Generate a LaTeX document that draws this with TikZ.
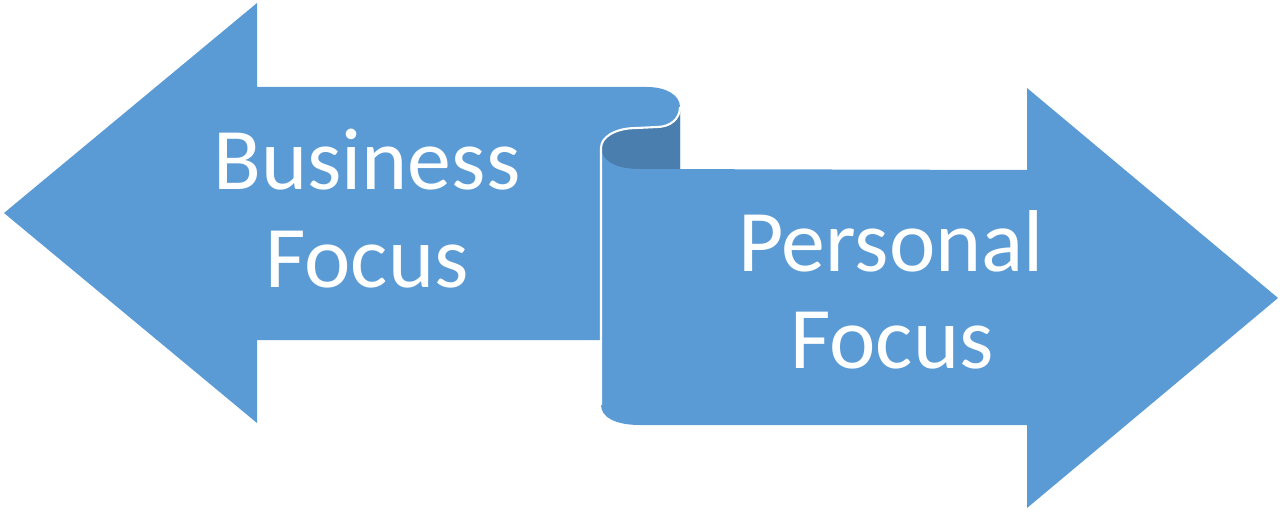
\documentclass[tikz,border=0pt]{standalone}
\usepackage{fontspec}
\setmainfont{Carlito}
\usepackage{tikz}
\definecolor{arrowblue}{HTML}{5B9BD5}
\definecolor{curlblue}{HTML}{4A7EAE}
\begin{document}
\begin{tikzpicture}[x=0.02cm,y=-0.02cm]
\tikzstyle{label}=[text=white,font=\fontsize{50}{55}\selectfont,inner sep=0pt,anchor=base]
\useasboundingbox (0,0) rectangle (1280,513);
% left arrow
\fill[arrowblue] (4,213) -- (257,3) -- (257,87) -- (647,87)
  .. controls (666,87) and (680,95) .. (680,107) -- (680,169)
  -- (600,169) -- (600,340) -- (257,340) -- (257,423) -- cycle;
% back of the curl
\fill[curlblue] (680,107) -- (680,169) -- (637,169)
  .. controls (615,169) and (601,160) .. (601,148)
  .. controls (601,137) and (615,128) .. (637,128) -- (657,127)
  .. controls (670,127) and (680,119) .. (680,107) -- cycle;
% right arrow
\fill[arrowblue] (601,148) .. controls (601,160) and (615,169) .. (637,169)
  -- (1027,170) -- (1027,88) -- (1278,298) -- (1027,508) -- (1027,425)
  -- (640,425) .. controls (615,425) and (601,417) .. (601,405) -- cycle;
\draw[white,line width=1.2pt] (680,107) .. controls (680,119) and (670,127) .. (657,127)
  -- (637,128) .. controls (615,128) and (601,137) .. (601,148) -- (601,405);
\node[label] (bus) at (367,190) {Business};
\node[label] (busfocus) at (367,287) {Focus};
\node[label] (pers) at (891,271) {Personal};
\node[label] (persfocus) at (892,368) {Focus};
\end{tikzpicture}
\end{document}
